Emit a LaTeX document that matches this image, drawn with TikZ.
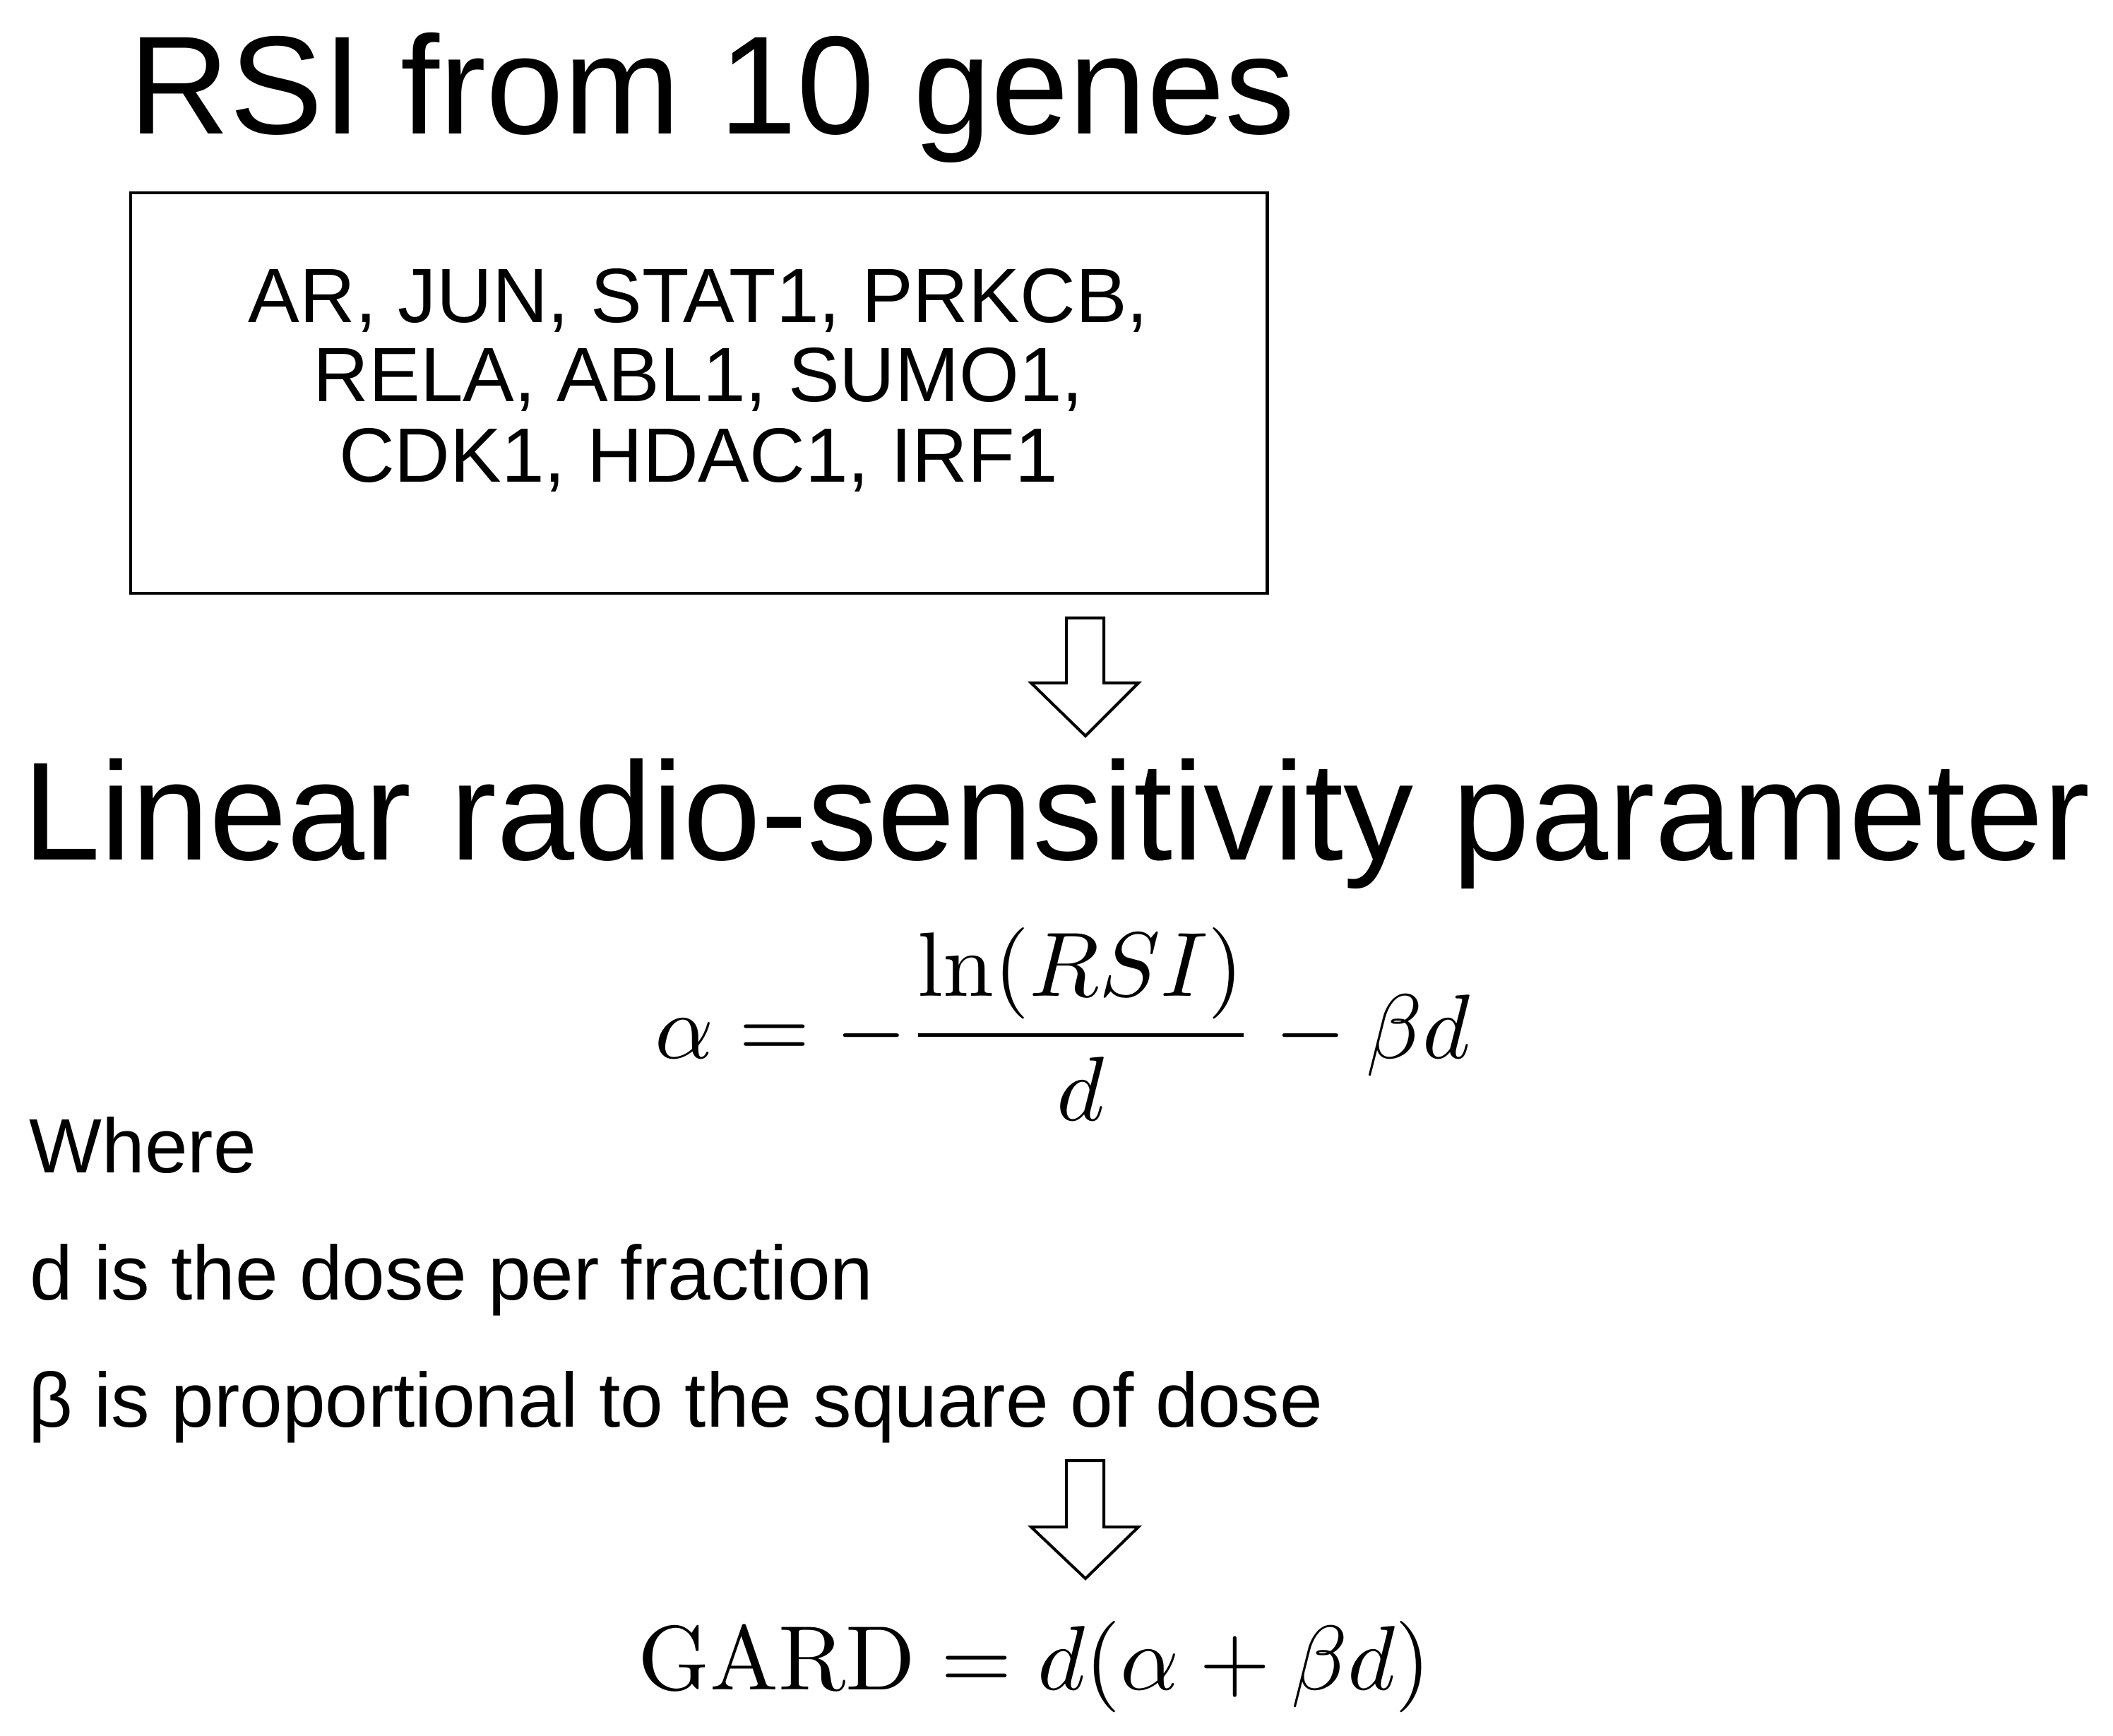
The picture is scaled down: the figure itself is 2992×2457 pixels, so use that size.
\RequirePackage{fix-cm}
\documentclass[tikz,border=0pt]{standalone}
\usepackage{graphicx}
\usepackage[no-math]{fontspec}
\setmainfont{Liberation Sans}
\newcommand\ttlfnt{\fontsize{56.3pt}{60pt}\selectfont}
\newcommand\bodyfnt{\fontsize{31pt}{32.1pt}\selectfont}
\newcommand\mathfnt{\fontsize{10pt}{12pt}\selectfont}
\newcommand\bigeq[1]{\scalebox{3.68}{#1}}
\begin{document}
\begin{tikzpicture}[x=0.01cm,y=-0.01cm,
  ttl/.style={inner sep=0pt,anchor=base west,font=\ttlfnt},
  bodytxt/.style={inner sep=0pt,anchor=base west,font=\bodyfnt},
  genetxt/.style={inner sep=0pt,anchor=base,font=\bodyfnt},
  eqn/.style={inner sep=0pt,anchor=base,font=\mathfnt},
  boxframe/.style={draw=black,line width=1.15pt,rectangle,inner sep=0pt,
    minimum width=16.09cm,minimum height=5.67cm},
  blockarrow/.style={draw=black,fill=white,line width=1.15pt,line join=miter}]
\useasboundingbox (0,0) rectangle (2992,2457);
% title 1
\node[ttl] (t1) at (182,189) {RSI from 10 genes};
% gene box
\node[boxframe] (genebox) at (989.5,556.5) {};
\node[genetxt] (g1) at (989,456) {AR, JUN, STAT1, PRKCB,};
\node[genetxt] (g2) at (989,568) {RELA, ABL1, SUMO1,};
\node[genetxt] (g3) at (989,682) {CDK1, HDAC1, IRF1};
% arrow 1
\draw[blockarrow] (1510,875) -- (1563,875) -- (1563,967) -- (1612,967)
  -- (1537,1042) -- (1460,967) -- (1510,967) -- cycle;
% title 2
\node[ttl] (t2) at (32,1217) {Linear radio-sensitivity parameter};
% formula 1
\node[eqn] (f1) at (1505,1498) {\bigeq{$\displaystyle \alpha = -\frac{\ln(RSI)}{d} - \beta d$}};
% where texts
\node[bodytxt] (w1) at (41,1660) {Where};
\node[bodytxt] (w2) at (42,1840) {d is the dose per fraction};
\node[bodytxt] (w3) at (40,2020) {β is proportional to the square of dose};
% arrow 2
\draw[blockarrow] (1510,2068) -- (1563,2068) -- (1563,2162) -- (1612,2162)
  -- (1537,2235) -- (1460,2162) -- (1510,2162) -- cycle;
% formula 2
\node[eqn] (f2) at (1465,2392) {\bigeq{$\mathrm{GARD} = d(\alpha + \beta d)$}};
\end{tikzpicture}
\end{document}
